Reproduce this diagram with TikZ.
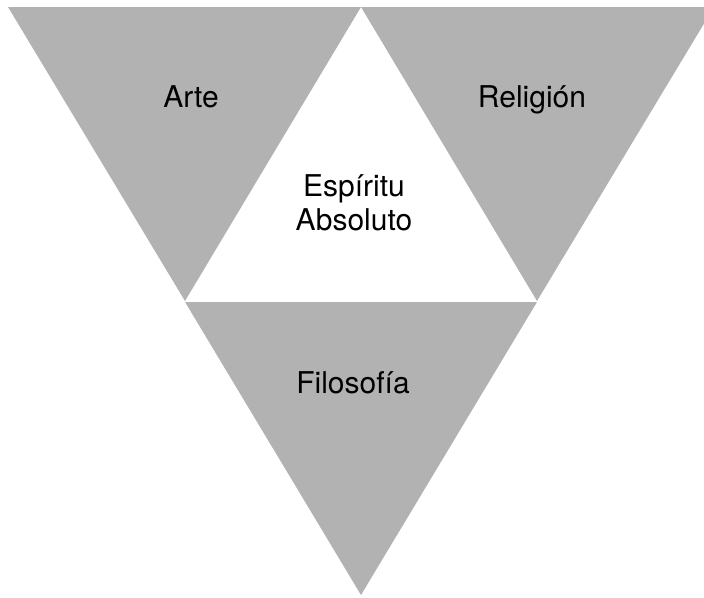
\documentclass[tikz,border=0pt]{standalone}
\usepackage{fontspec}
\setmainfont{TeX Gyre Heros}
\definecolor{trigray}{RGB}{178,178,178}
\begin{document}
\begin{tikzpicture}[x=1pt,y=-1pt,
  tri/.style={fill=trigray,draw=none},
  lbl/.style={font=\fontsize{30}{34}\selectfont,inner sep=0pt,anchor=base,align=center}]
\useasboundingbox (0,0) rectangle (704,597);
\begin{scope}
\clip (0,0) rectangle (704,597);
\fill[tri] (8,7) -- (361,7) -- (185,301) -- cycle;
\fill[tri] (361,7) -- (714,7) -- (537,301) -- cycle;
\fill[tri] (185,302) -- (537,302) -- (361,595) -- cycle;
\end{scope}
\node[lbl] (arte) at (191,107) {Arte};
\node[lbl] (religion) at (532,107) {Religión};
\node[lbl] (espiritu) at (354,230) {Espíritu\\Absoluto};
\node[lbl] (filosofia) at (353,393) {Filosofía};
\end{tikzpicture}
\end{document}
